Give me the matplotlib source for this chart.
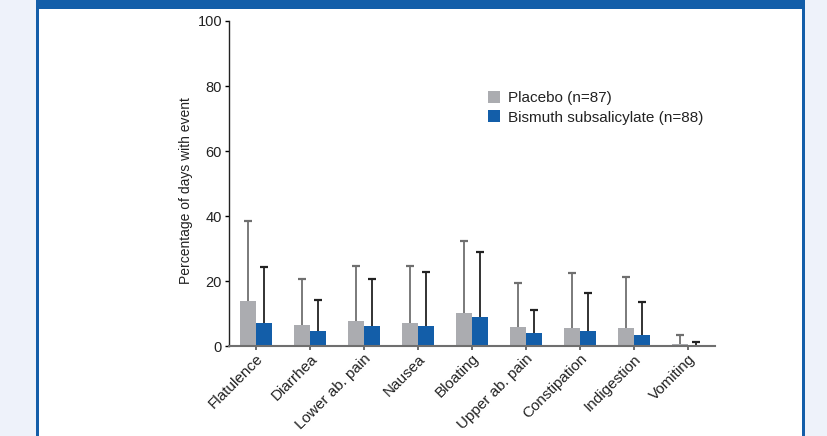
import numpy as np
import matplotlib.pyplot as plt
from matplotlib.patches import Rectangle

plt.rcParams["font.family"] = ["Liberation Sans", "DejaVu Sans"]

categories = ["Flatulence", "Diarrhea", "Lower ab. pain", "Nausea", "Bloating",
              "Upper ab. pain", "Constipation", "Indigestion", "Vomiting"]
placebo = [13.8, 6.5, 7.7, 7.1, 10.1, 5.8, 5.5, 5.5, 0.6]
placebo_err_top = [38.5, 20.7, 24.7, 24.7, 32.2, 19.4, 22.6, 21.3, 3.4]
bismuth = [7.1, 4.6, 6.2, 6.2, 9.0, 4.0, 4.6, 3.4, 0.3]
bismuth_err_top = [24.3, 14.3, 20.7, 22.7, 28.8, 11.2, 16.4, 13.6, 1.3]

grey = "#abacb0"
blue = "#135ea9"

fig = plt.figure(figsize=(8.27, 4.36), dpi=100, facecolor="#eef2fa")

# white panel with blue frame
W, H = 827, 436
fig.patches.append(Rectangle((36 / W, 0), (805 - 36) / W, 1, transform=fig.transFigure,
                             facecolor=blue, edgecolor="none", zorder=-2))
fig.patches.append(Rectangle((38.7 / W, 0), (801.5 - 38.7) / W, (436 - 9) / H,
                             transform=fig.transFigure, facecolor="white",
                             edgecolor="none", zorder=-1))

ax = fig.add_axes([229 / W, 1 - 346 / H, (715 - 229) / W, (346 - 21) / H])
ax.set_facecolor("none")
ax.set_zorder(2)

x = np.arange(len(categories))
w = 0.29
ax.bar(x - w / 2, placebo, w, color=grey, label="Placebo (n=87)", zorder=2)
ax.bar(x + w / 2, bismuth, w, color=blue, label="Bismuth subsalicylate (n=88)", zorder=2)

# upper error only
p_up = np.array(placebo_err_top) - np.array(placebo)
b_up = np.array(bismuth_err_top) - np.array(bismuth)
for xs, ys, up, c in [(x - w / 2, placebo, p_up, "#6f6f6f"), (x + w / 2, bismuth, b_up, "#222222")]:
    eb = ax.errorbar(xs, ys, yerr=[np.zeros_like(up), up], fmt="none",
                     ecolor=c, elinewidth=1.3, capsize=2.8, capthick=1.6, zorder=3)
    eb[1][0].set_visible(False)

ax.set_xlim(-0.5, len(categories) - 0.5)
ax.set_ylim(0, 100)
ax.set_yticks([0, 20, 40, 60, 80, 100])
ax.set_xticks(x)
ax.set_xticklabels(categories, rotation=45, ha="right", va="top", rotation_mode="anchor",
                   fontsize=11, color="#222222")
ax.tick_params(axis="y", labelsize=10.5, length=3, width=1, pad=2, labelcolor="#222222")
ax.tick_params(axis="x", length=3, width=1.2, color="#555555", pad=1)
ax.set_ylabel("Percentage of days with event", fontsize=10, color="#222222")
ax.yaxis.set_label_coords(-0.074, 0.478)

for s in ["top", "right"]:
    ax.spines[s].set_visible(False)
ax.spines["left"].set_color("#222222")
ax.spines["left"].set_linewidth(1)
ax.spines["bottom"].set_color("#6f6f6f")
ax.spines["bottom"].set_linewidth(1.5)

ax.legend(loc="upper left", bbox_to_anchor=(0.533, 0.785), frameon=False, fontsize=11,
          handlelength=0.8, handleheight=0.8, handletextpad=0.5, labelspacing=0.35,
          borderaxespad=0, borderpad=0, labelcolor="#222222")

fig.savefig("out.png", dpi=100, facecolor=fig.get_facecolor())
